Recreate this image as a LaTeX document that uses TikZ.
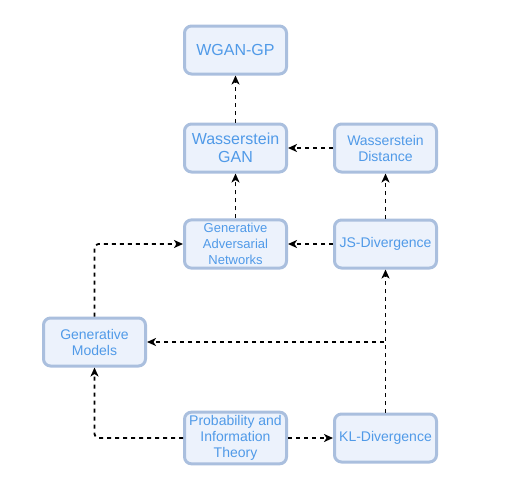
\documentclass[tikz,border=0pt]{standalone}
\usepackage{fontspec}
\setmainfont{Liberation Sans}
\usetikzlibrary{arrows.meta}
\definecolor{boxline}{RGB}{170,191,222}
\definecolor{boxfill}{RGB}{236,242,252}
\definecolor{boxtext}{RGB}{80,154,232}
\begin{document}
\begin{tikzpicture}[x=1pt,y=-1pt,line join=round,>={Stealth[length=9pt,width=8pt,inset=2.5pt]},
    blk/.style={draw=boxline,fill=boxfill,line width=3pt,rounded corners=7pt,
        minimum width=102pt,minimum height=48pt,align=center,text=boxtext,
        font=\fontsize{14}{16}\selectfont},
    link/.style={->,dash pattern=on 4pt off 4pt,line width=1.8pt}]
    \useasboundingbox (0,0) rectangle (506,477);
    \node[blk,font=\fontsize{16}{18}\selectfont] (wgangp) at (235.5,50) {WGAN-GP};
    \node[blk,font=\fontsize{16}{18}\selectfont] (wgan) at (235.5,148) {Wasserstein\\GAN};
    \node[blk] (wdist) at (385.5,148) {Wasserstein\\Distance};
    \node[blk,font=\fontsize{13}{16}\selectfont] (gan) at (235.5,244) {Generative\\Adversarial\\Networks};
    \node[blk] (js) at (385.5,244) {JS-Divergence};
    \node[blk] (gm) at (94.5,342) {Generative\\Models};
    \node[blk] (prob) at (235.5,438) {Probability and\\Information\\Theory};
    \node[blk] (kl) at (385.5,438) {KL-Divergence};
    % links
    \draw[link] (wgan) -- (wgangp);
    \draw[link] (gan) -- (wgan);
    \draw[link] (wdist) -- (wgan);
    \draw[link] (js) -- (wdist);
    \draw[link] (js) -- (gan);
    \draw[link] (kl) -- (js);
    \draw[link] (prob) -- (kl);
    \draw[link,rounded corners=4pt] (gm) |- (gan);
    \draw[link,rounded corners=4pt] (prob) -| (gm);
    \draw[link] (kl) |- (gm);
\end{tikzpicture}
\end{document}
